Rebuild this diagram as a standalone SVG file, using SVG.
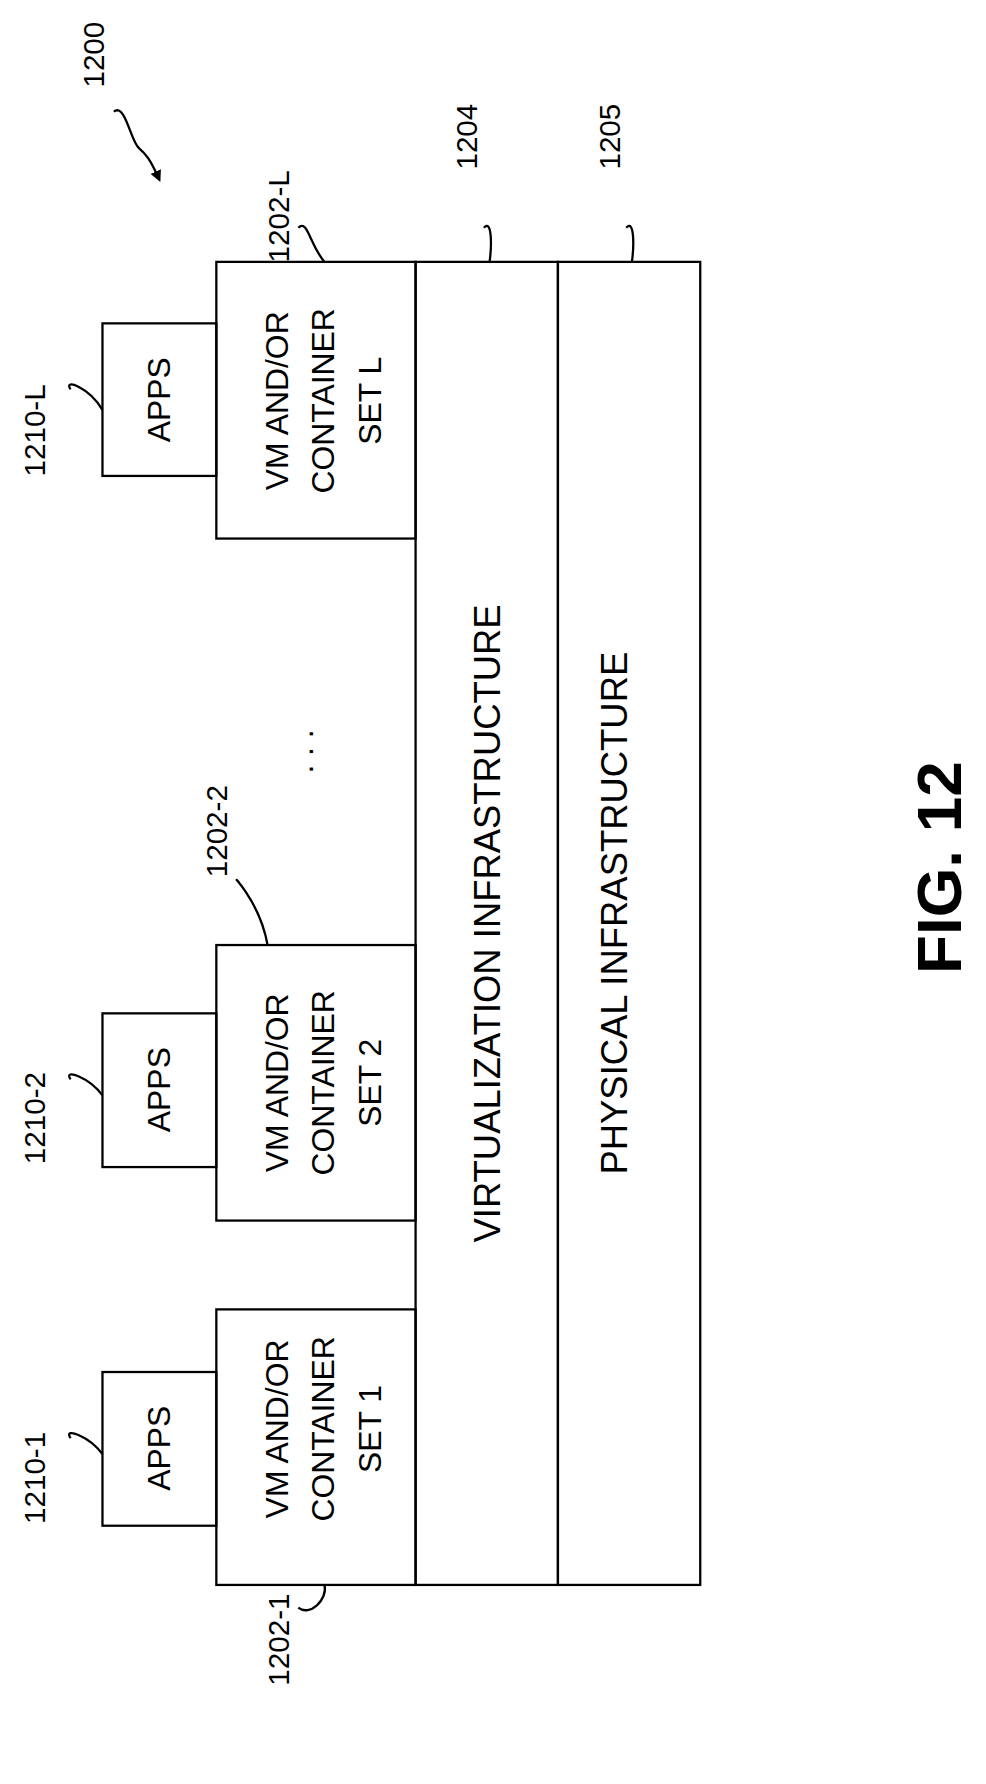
<svg xmlns="http://www.w3.org/2000/svg" width="986" height="1784" viewBox="0 0 986 1784">
<style>
rect{fill:none;stroke:#000;stroke-width:2}
text{font-family:"Liberation Sans",Arial,sans-serif;font-size:28px;text-anchor:middle;dominant-baseline:central;fill:#000}
.big{font-size:32px}
.lbl{font-size:26px}
.fig{font-size:56px;font-weight:bold}
path{fill:none;stroke:#000;stroke-width:2}
</style>
<defs><marker id="ah" markerWidth="10" markerHeight="10" refX="8" refY="5" orient="auto" markerUnits="userSpaceOnUse"><path d="M0,0 L10,5 L0,10 Z" style="fill:#000;stroke:none"/></marker></defs>
<rect x="0" y="0" width="986" height="1784" style="fill:#fff;stroke:none"/>
<g transform="scale(1.1386)">
<g id="physical"><rect x="490" y="230" width="125" height="1162"/><text class="big" transform="translate(540,802) rotate(-90)">PHYSICAL INFRASTRUCTURE</text></g>
<g id="virtualization"><rect x="365" y="230" width="125" height="1162"/><text class="big" transform="translate(428,811) rotate(-90)">VIRTUALIZATION INFRASTRUCTURE</text></g>
<g id="vmL"><rect x="190" y="230" width="175" height="243"/><text transform="translate(243,352) rotate(-90)">VM AND/OR</text><text transform="translate(284,352) rotate(-90)">CONTAINER</text><text transform="translate(325,352) rotate(-90)">SET L</text></g>
<g id="vm2"><rect x="190" y="830" width="175" height="242"/><text transform="translate(243,951) rotate(-90)">VM AND/OR</text><text transform="translate(284,951) rotate(-90)">CONTAINER</text><text transform="translate(325,951) rotate(-90)">SET 2</text></g>
<g id="vm1"><rect x="190" y="1150" width="175" height="242"/><text transform="translate(243,1255) rotate(-90)">VM AND/OR</text><text transform="translate(284,1255) rotate(-90)">CONTAINER</text><text transform="translate(325,1255) rotate(-90)">SET 1</text></g>
<g id="appsL"><rect x="90" y="284" width="100" height="134"/><text transform="translate(140,351) rotate(-90)">APPS</text></g>
<g id="apps2"><rect x="90" y="890" width="100" height="135"/><text transform="translate(140,957) rotate(-90)">APPS</text></g>
<g id="apps1"><rect x="90" y="1205" width="100" height="135"/><text transform="translate(140,1272) rotate(-90)">APPS</text></g>
<text transform="translate(265,660) rotate(-90)">. . .</text>
<g id="labels">
<text class="lbl" transform="translate(82,48) rotate(-90)">1200</text>
<text class="lbl" transform="translate(245,190) rotate(-90)">1202-L</text>
<text class="lbl" transform="translate(410,120) rotate(-90)">1204</text>
<text class="lbl" transform="translate(535,120) rotate(-90)">1205</text>
<text class="lbl" transform="translate(30,378) rotate(-90)">1210-L</text>
<text class="lbl" transform="translate(30,982) rotate(-90)">1210-2</text>
<text class="lbl" transform="translate(30,1298) rotate(-90)">1210-1</text>
<text class="lbl" transform="translate(190,730) rotate(-90)">1202-2</text>
<text class="lbl" transform="translate(245,1440) rotate(-90)">1202-1</text>
<text class="fig" transform="translate(825,762) rotate(-90)">FIG. 12</text>
</g>
<g id="connectors">
<path d="M100,98 C110,90 115,125 122,130 C128,135 132,140 140,158" marker-end="url(#ah)"/>
<path d="M262,200 C270,192 272,215 285,230"/>
<path d="M425,200 C432,192 432,215 430,230"/>
<path d="M550,200 C557,192 557,215 555,230"/>
<path d="M62,342 C55,332 78,340 90,360"/>
<path d="M62,948 C55,938 78,946 90,962"/>
<path d="M62,1263 C55,1253 78,1261 90,1277"/>
<path d="M210,775 C200,765 228,790 235,830"/>
<path d="M285,1392 C288,1405 272,1420 262,1412"/>
</g>
</g>
</svg>
